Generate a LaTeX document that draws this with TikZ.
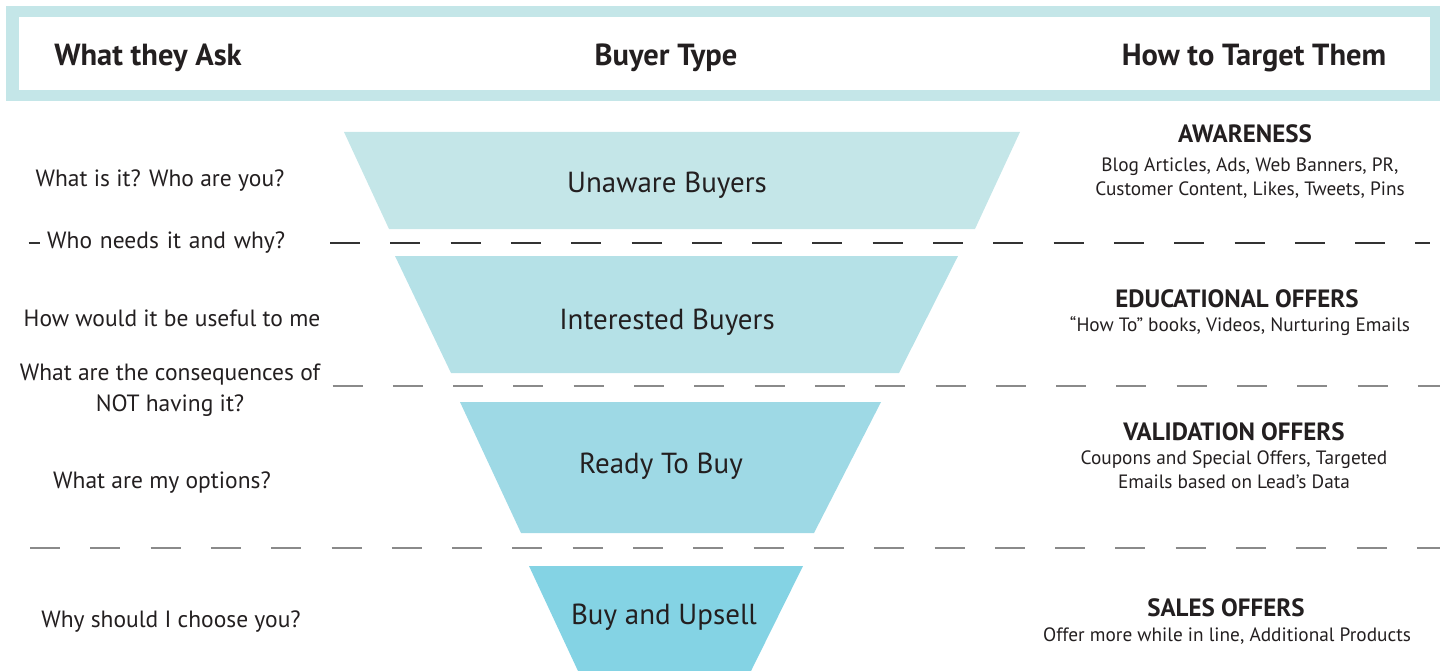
\documentclass[tikz,border=0pt]{standalone}
\usepackage{fontspec}
\setmainfont{PT Sans}
\definecolor{frame}{HTML}{C4E6E8}
\definecolor{fa}{HTML}{C4E6E8}
\definecolor{fb}{HTML}{B5E1E7}
\definecolor{fc}{HTML}{9ED9E5}
\definecolor{fd}{HTML}{84D3E4}
\definecolor{ink}{HTML}{231F20}
\definecolor{dashdark}{HTML}{333333}
\definecolor{dashgray}{HTML}{8A8A8A}
\tikzset{
  hdr/.style={font=\fontsize{30.5}{34}\selectfont\bfseries, text=ink},
  ask/.style={font=\fontsize{23.5}{31}\selectfont, text=ink, fill=white, inner sep=3pt, align=center},
  stage/.style={font=\fontsize{29}{32}\selectfont, text=ink},
  tgthead/.style={font=\fontsize{25}{28}\selectfont\bfseries, text=ink},
  tgtbody/.style={font=\fontsize{19.3}{24}\selectfont, text=ink, align=center},
  sep/.style={line width=1.6pt, dash pattern=on 30pt off 30.3pt},
}
\begin{document}
\begin{tikzpicture}[x=1pt,y=-1pt]
\useasboundingbox (0,0) rectangle (1445,671);
% header frame
\fill[frame] (6,6) rectangle (1440,101);
\fill[white] (19,17) rectangle (1430,90);
\node[hdr] (h1) at (148,58) {What they Ask};
\node[hdr] (h2) at (666,58) {Buyer Type};
\node[hdr] (h3) at (1254,58) {How to Target Them};

% separators
\coordinate (s1a) at (28.5,243); \coordinate (s1b) at (1430,243);
\coordinate (s2a) at (31,386); \coordinate (s2b) at (1440,386);
\coordinate (s3a) at (30,548); \coordinate (s3b) at (1440,548);
\draw[sep, dashdark] (s1a) -- (s1b);
\draw[sep, dashgray] (s2a) -- (s2b);
\draw[sep, dashgray] (s3a) -- (s3b);

% funnel
\fill[fa] (344,132) -- (1020,132) -- (975,229) -- (389,229) -- cycle;
\fill[fb] (395,256) -- (958,256) -- (899,373) -- (451,373) -- cycle;
\fill[fc] (460,402) -- (881,402) -- (814,533) -- (521,533) -- cycle;
\fill[fd] (529,566) -- (803,566) -- (751,671) -- (578,671) -- cycle;
\node[stage] (b1) at (667,185) {Unaware Buyers};
\node[stage] (b2) at (667,322) {Interested Buyers};
\node[stage] (b3) at (661,466) {Ready To Buy};
\node[stage] (b4) at (664,617) {Buy and Upsell};

% questions
\node[ask] (q1) at (160,181) {What is it? Who are you?};
\node[ask, anchor=west, text width=270pt, align=left, inner xsep=7pt] (q2) at (40,243) {Who needs it and why?};
\node[ask] (q3) at (172,318) {How would it be useful to me};
\node[ask] (q4) at (170,390) {What are the consequences of\\NOT having it?};
\node[ask] (q5) at (162,483) {What are my options?};
\node[ask] (q6) at (171,622) {Why should I choose you?};

% targets
\node[tgthead] (t1) at (1245,134) {AWARENESS};
\node[tgtbody] (t1b) at (1250,178) {Blog Articles, Ads, Web Banners, PR,\\Customer Content, Likes, Tweets, Pins};
\node[tgthead] (t2) at (1237,299) {EDUCATIONAL OFFERS};
\node[tgtbody] (t2b) at (1240,326) {“How To” books, Videos, Nurturing Emails};
\node[tgthead] (t3) at (1234,432) {VALIDATION OFFERS};
\node[tgtbody] (t3b) at (1234,470) {Coupons and Special Offers, Targeted\\Emails based on Lead’s Data};
\node[tgthead] (t4) at (1226,608) {SALES OFFERS};
\node[tgtbody] (t4b) at (1227,636) {Offer more while in line, Additional Products};
\end{tikzpicture}
\end{document}
